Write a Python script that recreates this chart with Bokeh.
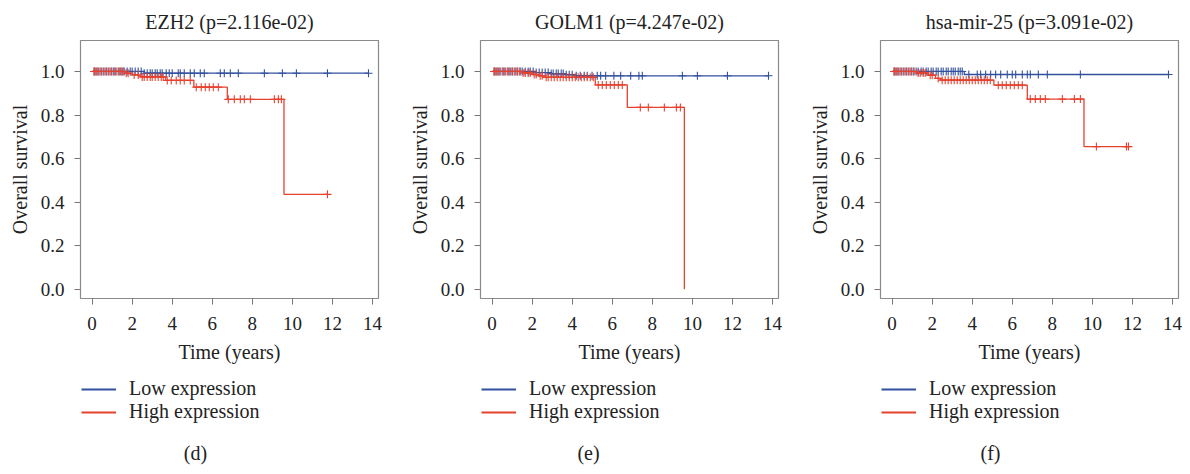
import numpy as np
from bokeh.plotting import figure
from bokeh.models import Range1d, Legend, LegendItem, Label, FixedTicker, PrintfTickFormatter
from bokeh.layouts import row, column
from bokeh.embed import file_html
from bokeh.resources import INLINE

FONT = "Liberation Serif"
BLUE = "#33509f"
RED = "#e6412f"
TXT = "#222222"

x_ticks = [0, 2, 4, 6, 8, 10, 12, 14]
y_ticks = [0.0, 0.2, 0.4, 0.6, 0.8, 1.0]
series_labels = ["Low expression", "High expression"]

titles = ["EZH2 (p=2.116e-02)", "GOLM1 (p=4.247e-02)", "hsa-mir-25 (p=3.091e-02)"]
captions = ["(d)", "(e)", "(f)"]

# ---------- EZH2 ----------
low_d_time = [0.0, 2.6]
low_d_surv = [1.0, 0.992]
low_d_cens = [0.1, 0.2, 0.3, 0.45, 0.55, 0.7, 0.8, 0.95, 1.05, 1.15, 1.3, 1.4, 1.5, 1.6, 1.75,
              1.9, 2.0, 2.15, 2.3, 2.45, 2.6, 2.75, 2.9, 3.0, 3.15, 3.25, 3.4, 3.5, 3.7, 3.85,
              4.0, 4.3, 4.4, 4.6, 4.9, 5.1, 5.4, 5.6, 6.4, 6.6, 6.9, 7.3, 8.6, 9.5, 10.2, 11.75, 13.8]
high_d_time = [0.0, 1.67, 2.0, 2.4, 3.67, 5.08, 6.75, 9.58]
high_d_surv = [1.0, 0.992, 0.984, 0.975, 0.959, 0.928, 0.872, 0.436]
high_d_cens = [0.1, 0.15, 0.25, 0.35, 0.45, 0.6, 0.7, 0.85, 0.95, 1.1, 1.2, 1.35, 1.45, 1.55,
               1.7, 1.8, 2.1, 2.3, 2.5, 2.6, 2.75, 2.9, 3.0, 3.15, 3.3, 3.45, 3.55, 3.75, 3.95,
               4.2, 4.4, 4.6, 4.9, 5.2, 5.45, 5.65, 5.85, 6.05, 6.3, 6.8, 7.1, 7.4, 7.6, 7.9,
               9.1, 9.3, 9.45, 11.75]

# ---------- GOLM1 ----------
low_e_time = [0.0, 2.1, 2.9, 3.6, 4.1]
low_e_surv = [1.0, 0.995, 0.99, 0.985, 0.98]
low_e_cens = [0.1, 0.2, 0.3, 0.4, 0.55, 0.65, 0.8, 0.9, 1.0, 1.15, 1.25, 1.4, 1.5, 1.65, 1.8,
              1.9, 2.05, 2.2, 2.35, 2.5, 2.65, 2.8, 2.95, 3.05, 3.2, 3.3, 3.45, 3.55, 3.7, 3.85,
              4.0, 4.2, 4.4, 4.6, 4.75, 4.99, 5.25, 5.42, 5.67, 6.08, 6.42, 6.92, 7.33, 7.5,
              9.5, 10.25, 11.75, 13.8]
high_e_time = [0.0, 1.5, 2.0, 2.3, 2.6, 5.15, 6.75, 9.6]
high_e_surv = [1.0, 0.993, 0.986, 0.98, 0.973, 0.938, 0.835, 0.0]
high_e_cens = [0.1, 0.15, 0.25, 0.35, 0.5, 0.6, 0.75, 0.85, 1.0, 1.1, 1.25, 1.35, 1.55, 1.65,
               1.8, 1.9, 2.1, 2.2, 2.4, 2.5, 2.7, 2.8, 2.95, 3.1, 3.25, 3.4, 3.55, 3.7, 3.85,
               4.0, 4.15, 4.3, 4.45, 4.6, 4.75, 4.9, 5.05, 5.3, 5.5, 5.7, 5.9, 6.1, 6.3, 6.5,
               7.4, 7.8, 8.6, 9.2, 9.4]

# ---------- hsa-mir-25 ----------
low_f_time = [0.0, 3.6]
low_f_surv = [1.0, 0.986]
low_f_cens = [0.1, 0.2, 0.3, 0.45, 0.55, 0.7, 0.8, 0.95, 1.05, 1.2, 1.3, 1.45, 1.55, 1.7, 1.8,
              1.95, 2.05, 2.2, 2.3, 2.45, 2.55, 2.7, 2.8, 2.95, 3.05, 3.15, 3.3, 3.4, 3.5, 3.83,
              4.25, 4.42, 4.67, 4.92, 5.17, 5.42, 5.75, 6.0, 6.17, 6.5, 6.75, 6.9, 7.3, 7.75,
              9.4, 13.8]
high_f_time = [0.0, 1.2, 1.8, 2.17, 2.4, 5.08, 6.75, 9.58]
high_f_surv = [1.0, 0.993, 0.983, 0.968, 0.96, 0.937, 0.873, 0.655]
high_f_cens = [0.1, 0.15, 0.25, 0.35, 0.45, 0.6, 0.7, 0.85, 0.95, 1.1, 1.3, 1.4, 1.55, 1.65,
               1.9, 2.0, 2.3, 2.5, 2.65, 2.8, 2.95, 3.1, 3.25, 3.4, 3.55, 3.7, 3.85, 4.0, 4.15,
               4.3, 4.45, 4.6, 4.75, 4.9, 5.3, 5.5, 5.7, 5.9, 6.1, 6.3, 6.5, 6.9, 7.15, 7.4,
               7.65, 8.5, 9.1, 9.4, 10.2, 11.7, 11.8]

panels = [
    (low_d_time, low_d_surv, low_d_cens, high_d_time, high_d_surv, high_d_cens),
    (low_e_time, low_e_surv, low_e_cens, high_e_time, high_e_surv, high_e_cens),
    (low_f_time, low_f_surv, low_f_cens, high_f_time, high_f_surv, high_f_cens),
]
right_borders = [22, 22, 4]
caption_x = [195, 188, 190]


def surv_at(times, survs, ts):
    times = np.asarray(times)
    survs = np.asarray(survs)
    idx = np.searchsorted(times, np.asarray(ts), side="right") - 1
    return survs[idx]


def draw_curve(p, times, survs, cens, color):
    end = max(max(cens), max(times))
    xs = list(times) + [end]
    ys = list(survs) + [survs[-1]]
    r = p.step(x=xs, y=ys, mode="after", line_color=color, line_width=1.3)
    p.scatter(x=cens, y=surv_at(times, survs, cens), marker="cross", size=8,
              line_color=color, line_width=1.1)
    return r


def make_legend(renderer, label, vy):
    lg = Legend(items=[LegendItem(label=label, renderers=[renderer])],
                location=(81, vy), orientation="vertical")
    lg.border_line_color = None
    lg.background_fill_alpha = 0
    lg.glyph_width = 35
    lg.glyph_height = 18
    lg.label_height = 18
    lg.label_standoff = 13
    lg.padding = 0
    lg.spacing = 0
    lg.margin = 0
    lg.label_text_font = FONT
    lg.label_text_font_size = "20px"
    lg.label_text_color = TXT
    return lg


top_figs = []
bottom_figs = []
for i, (lt, ls, lc, ht, hs, hc) in enumerate(panels):
    p = figure(frame_width=298, frame_height=258, x_range=Range1d(-0.58, 14.3),
               y_range=Range1d(-0.042, 1.142), output_backend="svg",
               toolbar_location=None, min_border_left=80, min_border_right=right_borders[i],
               min_border_top=40, min_border_bottom=70)
    p.title.text = titles[i]
    p.title.align = "center"
    p.title.text_font = FONT
    p.title.text_font_size = "20px"
    p.title.text_font_style = "normal"
    p.title.text_color = TXT
    p.title.standoff = 15

    p.xgrid.visible = False
    p.ygrid.visible = False
    p.outline_line_color = "#8a8a8a"
    p.outline_line_width = 1.2
    p.background_fill_color = "white"
    p.border_fill_color = "white"

    for ax in (p.xaxis[0], p.yaxis[0]):
        ax.axis_line_color = None
        ax.major_tick_line_color = "#777777"
        ax.major_tick_in = 0
        ax.major_tick_out = 6
        ax.minor_tick_line_color = None
        ax.major_label_text_font = FONT
        ax.major_label_text_font_size = "19px"
        ax.major_label_text_color = TXT
        ax.axis_label_text_font = FONT
        ax.axis_label_text_font_size = "20px"
        ax.axis_label_text_font_style = "normal"
        ax.axis_label_text_color = TXT
    p.xaxis.ticker = FixedTicker(ticks=x_ticks)
    p.yaxis.ticker = FixedTicker(ticks=y_ticks)
    p.yaxis.formatter = PrintfTickFormatter(format="%.1f")
    p.xaxis.axis_label = "Time (years)"
    p.yaxis.axis_label = "Overall survival"
    p.xaxis.major_label_standoff = 12
    p.xaxis.axis_label_standoff = 8
    p.yaxis.major_label_standoff = 10
    p.yaxis.axis_label_standoff = 7

    draw_curve(p, lt, ls, lc, BLUE)
    draw_curve(p, ht, hs, hc, RED)
    top_figs.append(p)

    # legend + caption strip below each panel
    w = 80 + 298 + right_borders[i]
    q = figure(width=w, height=100, x_range=Range1d(0, 1), y_range=Range1d(0, 1),
               output_backend="svg", toolbar_location=None, min_border=0,
               x_axis_location=None, y_axis_location=None)
    q.xgrid.visible = False
    q.ygrid.visible = False
    q.outline_line_color = None
    q.background_fill_color = "white"
    q.border_fill_color = "white"
    # legend keys only (no visible data)
    k_low = q.line(x=np.array([np.nan]), y=np.array([np.nan]), line_color=BLUE, line_width=2)
    k_high = q.line(x=np.array([np.nan]), y=np.array([np.nan]), line_color=RED, line_width=2)
    q.add_layout(make_legend(k_low, series_labels[0], 68), "center")
    q.add_layout(make_legend(k_high, series_labels[1], 45), "center")
    cap = Label(x=caption_x[i], y=16, x_units="screen", y_units="screen",
                text=captions[i], text_align="center", text_baseline="middle",
                text_font=FONT, text_font_size="20px", text_color=TXT)
    q.add_layout(cap)
    bottom_figs.append(q)

layout = column(row(*top_figs), row(*bottom_figs))
open("out.html", "w").write(file_html(layout, INLINE))
